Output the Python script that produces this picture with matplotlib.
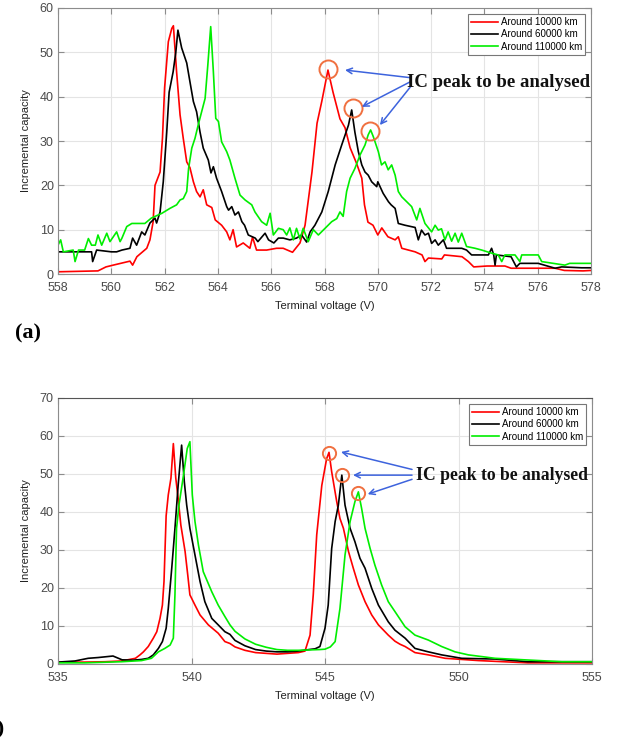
import matplotlib
matplotlib.use("Agg")
import matplotlib.pyplot as plt

# ---- panel (a) data ----
r1_x = [558, 559.5, 559.8, 560.07, 560.7, 560.8, 560.96, 561.33, 561.45, 561.57,
        561.64, 561.83, 561.92, 562.0, 562.14, 562.27, 562.33, 562.45, 562.58, 562.7,
        562.83, 562.95, 563.08, 563.2, 563.33, 563.45, 563.58, 563.77, 563.9, 564.14,
        564.33, 564.45, 564.57, 564.7, 564.95, 565.2, 565.3, 565.45, 565.83, 566.2,
        566.45, 566.8, 567.08, 567.27, 567.53, 567.72, 567.9, 568.13, 568.32, 568.58,
        568.77, 568.96, 569.2, 569.4, 569.5, 569.63, 569.82, 570.0, 570.15, 570.38,
        570.65, 570.77, 570.9, 571.4, 571.66, 571.77, 571.9, 572.4, 572.5, 573.16,
        573.4, 573.6, 574.1, 574.77, 575.0, 576.65, 577.0, 577.7, 578]
r1_y = [0.5, 0.7, 1.6, 2.0, 2.9, 2.0, 3.9, 5.8, 7.7, 11.8,
        20, 23, 30.7, 42, 52.4, 55.4, 56, 45.6, 35.9, 30.6,
        25.3, 24, 20.8, 18.6, 17.4, 19, 15.6, 15, 12.2, 11,
        9.5, 7.7, 10, 6.1, 7, 5.8, 8.3, 5.4, 5.4, 5.8,
        5.8, 4.9, 7, 11, 23, 34, 39, 46, 41, 35,
        33, 28.5, 25, 21.6, 15.6, 11.7, 11, 8.8, 10.4, 8.4,
        7.7, 8.4, 5.8, 5.0, 4.3, 2.8, 3.6, 3.4, 4.3, 3.9,
        2.8, 1.6, 1.8, 1.8, 1.3, 1.3, 0.8, 0.7, 0.8]

k1_x = [558, 558.65, 559.26, 559.3, 559.45, 560.0, 560.2, 560.4, 560.7, 560.8,
        560.95, 561.14, 561.26, 561.45, 561.64, 561.7, 561.83, 561.95, 562.08, 562.17,
        562.32, 562.42, 562.5, 562.64, 562.83, 562.95, 563.08, 563.2, 563.33, 563.45,
        563.64, 563.74, 563.83, 563.95, 564.14, 564.33, 564.4, 564.52, 564.64, 564.77,
        564.9, 565.0, 565.14, 565.4, 565.5, 565.77, 565.9, 566.1, 566.27, 566.45,
        566.7, 566.95, 567.14, 567.33, 567.46, 567.64, 567.9, 568.14, 568.4, 568.64,
        568.9, 569.02, 569.14, 569.27, 569.4, 569.52, 569.64, 569.77, 569.96, 570.0,
        570.2, 570.4, 570.5, 570.65, 570.77, 571.02, 571.4, 571.52, 571.64, 571.77,
        571.9, 572.02, 572.15, 572.27, 572.46, 572.58, 573.15, 573.33, 573.52, 574.15,
        574.27, 574.35, 574.4, 574.45, 575.0, 575.2, 575.33, 576.02, 576.65, 576.9,
        577.65, 578]
k1_y = [5.0, 5.0, 5.0, 2.8, 5.4, 5.0, 5.0, 5.4, 5.8, 8.1,
        6.5, 9.5, 8.8, 11.5, 12.6, 11.5, 14, 20.8, 32, 41,
        45.6, 50, 55, 51, 47.6, 43.4, 38.9, 36.6, 32, 28.4,
        25.7, 22.8, 24.2, 21.6, 18.6, 15.2, 14.4, 15.2, 13.3, 14,
        11.8, 11, 8.8, 8.1, 7.3, 9.2, 7.7, 7.0, 8.1, 8.1,
        7.7, 8.1, 8.8, 7.2, 9.5, 11, 14, 18.6, 24.6, 29,
        33.6, 37, 32, 27.6, 24.6, 23, 22.3, 20.8, 19.7, 20.8,
        18.2, 16.3, 15.6, 14.8, 11.4, 11, 10.5, 7.7, 9.9, 8.8,
        9.2, 6.9, 7.7, 6.5, 7.7, 5.8, 5.8, 5.4, 4.3, 4.3,
        5.8, 4.3, 2.0, 4.3, 3.9, 1.6, 2.4, 2.4, 1.3, 1.6,
        1.4, 1.4]

g1_x = [558, 558.1, 558.2, 558.57, 558.64, 558.77, 559.0, 559.14, 559.26, 559.4,
        559.5, 559.64, 559.83, 559.95, 560.2, 560.33, 560.4, 560.58, 560.77, 561.26,
        561.5, 561.9, 562.2, 562.45, 562.58, 562.7, 562.83, 562.9, 563.02, 563.14,
        563.26, 563.39, 563.52, 563.62, 563.73, 563.83, 563.92, 564.02, 564.14, 564.33,
        564.45, 564.64, 564.83, 565.02, 565.27, 565.39, 565.64, 565.83, 565.96, 566.08,
        566.27, 566.45, 566.58, 566.7, 566.83, 566.95, 567.08, 567.2, 567.39, 567.58,
        567.77, 568.02, 568.27, 568.46, 568.58, 568.7, 568.83, 568.96, 569.14, 569.33,
        569.52, 569.64, 569.73, 569.83, 570.02, 570.14, 570.27, 570.39, 570.52, 570.65,
        570.77, 570.9, 571.27, 571.46, 571.58, 571.77, 572.02, 572.15, 572.27, 572.39,
        572.52, 572.64, 572.77, 572.9, 573.02, 573.15, 573.33, 573.65, 573.9, 574.27,
        574.52, 574.65, 574.77, 575.15, 575.33, 575.4, 576.02, 576.15, 577.02, 577.2,
        578]
g1_y = [6.5, 7.7, 5.0, 5.4, 2.8, 5.4, 5.4, 8.0, 6.5, 6.5,
        8.8, 6.5, 9.2, 7.3, 9.5, 7.3, 8.1, 10.7, 11.4, 11.4,
        12.6, 13.7, 14.8, 15.6, 16.7, 17, 18.6, 23.8, 28.4, 30.6,
        33.6, 36.6, 39.6, 47, 55.8, 45.6, 35.1, 34.4, 29.8, 27.6,
        25.7, 21.6, 17.8, 16.7, 15.6, 14, 11.8, 11, 13.7, 8.8,
        10.3, 10, 8.8, 10.4, 7.7, 10.3, 7.9, 10.3, 7.3, 10,
        8.8, 10.3, 11.8, 12.5, 14, 13, 18.6, 21.6, 23.8, 26.8,
        29.1, 31.4, 32.5, 31, 27.6, 24.6, 25.3, 23.5, 24.6, 22.3,
        18.6, 17.4, 15.2, 12.2, 14.8, 11.4, 9.5, 11, 9.9, 10.2,
        7.7, 9.5, 7.4, 9.2, 7.2, 9.2, 6.2, 5.8, 5.4, 4.7,
        4.3, 2.8, 4.3, 4.3, 2.8, 4.3, 4.3, 2.8, 2.0, 2.4,
        2.4]

# ---- panel (b) data ----
r2_x = [535, 536.0, 536.76, 537.39, 537.9, 538.07, 538.2, 538.38, 538.57, 538.7,
        538.82, 538.91, 538.97, 539.05, 539.13, 539.23, 539.32, 539.41, 539.5, 539.6,
        539.76, 539.86, 539.94, 540.13, 540.32, 540.63, 541.0, 541.25, 541.44, 541.63,
        542.0, 542.4, 542.8, 543.2, 543.6, 544.0, 544.25, 544.44, 544.56, 544.69,
        544.88, 545.06, 545.15, 545.25, 545.44, 545.56, 545.69, 545.88, 546.06, 546.25,
        546.5, 546.75, 547.0, 547.37, 547.62, 547.81, 548.0, 548.37, 548.87, 549.5,
        550.75, 552.6, 553.87, 555]
r2_y = [0.5, 0.5, 0.6, 0.8, 1.5, 2.4, 3.2, 4.6, 6.8, 8.5,
        12, 15.5, 21.7, 39, 44.5, 48.9, 58, 49, 43.6, 36.6,
        29.6, 23.4, 18.2, 15.5, 12.9, 10.3, 8.1, 5.9, 5.4, 4.5,
        3.6, 3.0, 2.8, 2.6, 2.8, 3.0, 3.4, 7.6, 18.2, 34,
        47, 54, 55.7, 50.6, 42.7, 38.3, 35.7, 29.6, 25.2, 20.8,
        16.4, 12.9, 10.3, 7.6, 6.0, 5.2, 4.6, 3.0, 2.4, 1.5,
        0.9, 0.3, 0.3, 0.3]

k2_x = [535, 535.64, 536.13, 536.5, 537.06, 537.4, 537.8, 538.13, 538.38, 538.57,
        538.76, 538.91, 539.05, 539.13, 539.26, 539.38, 539.5, 539.63, 539.73, 539.82,
        539.94, 540.13, 540.32, 540.5, 540.76, 541.0, 541.25, 541.44, 541.63, 542.0,
        542.4, 542.8, 543.2, 543.6, 544.0, 544.4, 544.63, 544.81, 545.0, 545.12,
        545.25, 545.38, 545.5, 545.63, 545.75, 545.94, 546.12, 546.31, 546.5, 546.75,
        547.0, 547.37, 547.62, 548.0, 548.37, 548.87, 549.37, 550.12, 551.37, 552.6,
        553.87, 555]
k2_y = [0.5, 0.8, 1.5, 1.7, 2.1, 1.1, 1.0, 1.2, 1.5, 2.4,
        4.1, 5.9, 9.4, 14.6, 25.2, 35.7, 47, 57.6, 48, 41.8,
        35.7, 28.7, 21.7, 16.4, 12, 10.3, 8.5, 7.8, 6.2, 4.8,
        3.8, 3.4, 3.2, 3.2, 3.4, 3.8, 4.0, 4.6, 9.4, 15.5,
        30.4, 37.5, 41.8, 49.7, 41.8, 35.7, 32.2, 27.8, 25.2, 19.9,
        15.5, 11.1, 8.9, 6.8, 4.1, 3.2, 2.4, 1.5, 1.3, 0.6,
        0.6, 0.6]

g2_x = [535, 536.0, 537.39, 538.13, 538.5, 538.76, 539.0, 539.2, 539.32, 539.38,
        539.44, 539.53, 539.7, 539.84, 539.94, 540.03, 540.13, 540.26, 540.44, 540.76,
        541.0, 541.25, 541.44, 541.63, 542.0, 542.4, 542.8, 543.2, 543.6, 544.0,
        544.4, 544.8, 545.0, 545.2, 545.38, 545.56, 545.75, 545.94, 546.12, 546.25,
        546.37, 546.5, 546.69, 546.87, 547.12, 547.37, 547.62, 548.0, 548.37, 548.87,
        549.37, 549.87, 550.37, 551.37, 552.6, 553.87, 555]
g2_y = [0.3, 0.3, 0.6, 0.9, 1.5, 3.2, 4.1, 5.0, 6.8, 18.2,
        35.7, 41.8, 49.7, 56.7, 58.5, 44.5, 37.5, 31.3, 24.3, 19,
        15.5, 12.5, 10.3, 8.6, 6.6, 5.2, 4.4, 3.8, 3.6, 3.6,
        3.7, 3.8, 3.9, 4.5, 5.9, 14.6, 28.7, 37.5, 42.7, 45.3,
        41, 35.7, 30.4, 26, 20.8, 16.4, 13.8, 9.8, 7.6, 6.3,
        4.6, 3.2, 2.4, 1.5, 1.05, 0.6, 0.6]

labels = ["Around 10000 km", "Around 60000 km", "Around 110000 km"]
colors = ["#ff0000", "#000000", "#00ee00"]

# analysed peaks (circled) and annotation anchors
peaks_a_x = [568.15, 569.06, 569.7]
peaks_a_y = [46.3, 37.4, 32.3]
peaks_b_x = [545.15, 545.64, 546.24]
peaks_b_y = [55.5, 49.7, 45.0]
arrow_a_end = [(568.77, 46.0), (569.4, 37.7), (570.08, 33.6)]
arrow_a_start = [(571.2, 44.3), (571.2, 43.3), (571.25, 42.4)]
arrow_b_end = [(545.6, 55.8), (546.05, 49.7), (546.6, 44.7)]
arrow_b_start = [(548.26, 51.2), (548.26, 49.7), (548.26, 48.6)]

font = "Liberation Sans"
tick_col = "#4a4a4a"
spine_col = "#8c8c8c"

fig = plt.figure(figsize=(6.28, 7.45), dpi=100)
ax1 = fig.add_axes([58/628, 1-274/745, 533/628, 266/745])
ax2 = fig.add_axes([58/628, 1-664/745, 534/628, 266/745])


def style(ax, xlim, ylim, xt, yt):
    ax.set_xlim(*xlim)
    ax.set_ylim(*ylim)
    ax.set_xticks(xt)
    ax.set_yticks(yt)
    ax.grid(True, color="#e4e4e4", lw=0.8)
    ax.set_axisbelow(True)
    ax.tick_params(direction="in", length=4, width=0.8, color=spine_col,
                   labelcolor=tick_col, labelsize=9, top=True, right=True, pad=3)
    ax.tick_params(axis="x", pad=6)
    for lab in ax.get_xticklabels() + ax.get_yticklabels():
        lab.set_fontname(font)
    for s in ax.spines.values():
        s.set_color(spine_col)
        s.set_linewidth(0.8)
    ax.set_xlabel("Terminal voltage (V)", fontname=font, fontsize=8, color="#222222", labelpad=5)
    ax.set_ylabel("Incremental capacity", fontname=font, fontsize=8, color="#222222", labelpad=6)


panels = [
    (ax1, [(r1_x, r1_y), (k1_x, k1_y), (g1_x, g1_y)], peaks_a_x, peaks_a_y,
     arrow_a_start, arrow_a_end, (571.1, 43.1), 13, 13.5),
    (ax2, [(r2_x, r2_y), (k2_x, k2_y), (g2_x, g2_y)], peaks_b_x, peaks_b_y,
     arrow_b_start, arrow_b_end, (548.4, 49.7), 9.5, 12.7),
]

for ax, series, px, py, a_st, a_en, txt_pos, ms, fs in panels:
    for (x, y), c, lab in zip(series, colors, labels):
        ax.plot(x, y, color=c, lw=1.2, label=lab)
    ax.plot(px, py, "o", mfc="none", mec="#f07040", ms=ms, mew=1.4)
    for st, en in zip(a_st, a_en):
        ax.annotate("", xy=en, xytext=st,
                    arrowprops=dict(arrowstyle="->", color="#3d63dd", lw=1.1,
                                    shrinkA=0, shrinkB=0))
    ax.text(txt_pos[0], txt_pos[1], "IC peak to be analysed", fontname="Liberation Serif",
            fontweight="bold", fontsize=fs, va="center", ha="left", color="#111111")
    leg = ax.legend(loc="upper right", bbox_to_anchor=(0.989, 0.977), borderaxespad=0,
                    fancybox=False, framealpha=1, edgecolor="#777777",
                    prop={"family": font, "size": 7}, handlelength=2.8,
                    handletextpad=0.3, borderpad=0.3, labelspacing=0.25)
    leg.get_frame().set_linewidth(0.8)

style(ax1, (558, 578), (0, 60), range(558, 579, 2), range(0, 61, 10))
style(ax2, (535, 555), (0, 70), range(535, 556, 5), range(0, 71, 10))
ax2.spines["top"].set_color("#555555")

fig.text(15/628, 1-333/745, "(a)", fontname="Liberation Serif", fontweight="bold",
         fontsize=16, va="center", ha="left")
fig.text(4/628, 1-728/745, "(b)", fontname="Liberation Serif", fontweight="bold",
         fontsize=16, va="center", ha="right")

fig.savefig("out.png", dpi=100)
